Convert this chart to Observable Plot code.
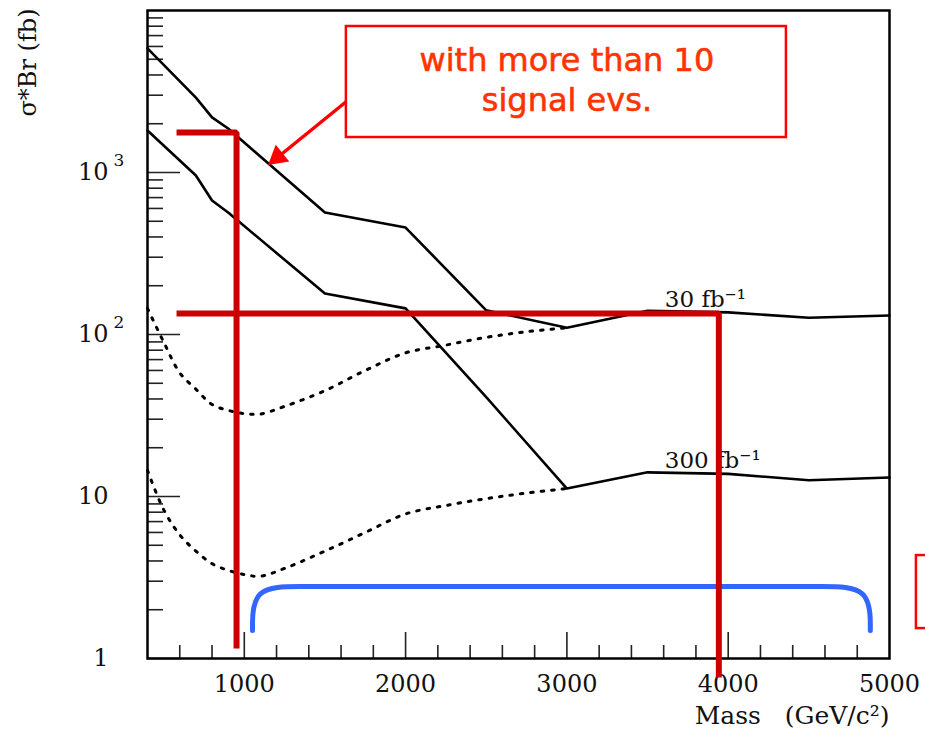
<!DOCTYPE html>
<html>
<head>
<meta charset="utf-8">
<script src="https://cdn.jsdelivr.net/npm/d3@7"></script>
<script src="https://cdn.jsdelivr.net/npm/@observablehq/plot@0.6"></script>
<style>
  html, body { margin: 0; padding: 0; background: #fff; }
  #chart svg { display: block; }
</style>
</head>
<body>
<div id="chart"></div>
<script>
// ---- Data ----
// Solid curves: sigma*Br needed (fb) vs mass (GeV/c^2)
const mass30   = [400, 700, 800, 900, 1500, 2000, 2500, 3000, 3500, 4000, 4500, 5000];
const sigma30  = [5830, 2900, 2190, 1870, 566, 457, 141, 110, 140, 137, 127, 131];
const mass300  = [400, 700, 800, 900, 1500, 2000, 2500, 3000, 3500, 4000, 4500, 5000];
const sigma300 = [1816, 958, 671, 566, 179, 145, 41, 11.2, 14.1, 13.8, 12.6, 13.1];

// Dotted curves
const massDot30   = [400, 500, 600, 700, 800, 900, 1000, 1100, 1250, 1500, 1750, 2000, 2250, 2500, 2750, 3000];
const sigmaDot30  = [145, 90, 58, 46, 37, 34, 32.5, 32.3, 36, 45, 60, 77, 86, 96, 104, 110];
const massDot300  = [400, 500, 600, 700, 800, 900, 1000, 1100, 1250, 1500, 1750, 2000, 2250, 2500, 2750, 3000];
const sigmaDot300 = [14.5, 8.3, 5.8, 4.6, 3.85, 3.5, 3.3, 3.22, 3.6, 4.6, 6.0, 7.8, 8.8, 9.7, 10.5, 11.2];

// Curve labels
const curveLabels = ["30 fb\u207B\u00B9", "300 fb\u207B\u00B9"];
const curveLabelMass = [3607, 3607];
const curveLabelSigma = [164, 16.7];

// Axis ticks
const xMajorTicks = [1000, 2000, 3000, 4000];
const xMinorTicks = [600, 800, 1200, 1400, 1600, 1800, 2200, 2400, 2600, 2800, 3200, 3400, 3600, 3800, 4200, 4400, 4600, 4800];
const xTickLabels = [1000, 2000, 3000, 4000, 5000];
const yMajorTicks = [1, 10, 100, 1000];
const yMinorTicks = [2,3,4,5,6,7,8,9, 20,30,40,50,60,70,80,90, 200,300,400,500,600,700,800,900, 2000,3000,4000,5000,6000,7000,8000,9000];
const yTickBase = ["1", "10", "10", "10"];
const yTickExp  = ["", "", "2", "3"];

// Annotations (in data units)
const redL1Mass  = [580, 952, 952];
const redL1Sigma = [1766, 1766, 1.153];
const redL2Mass  = [580, 3942, 3942];
const redL2Sigma = [134.8, 134.8, 0.763];
const bracketMass  = [1051, 1051, 1348, 1650, 4280, 4584, 4881, 4881];
const bracketSigma = [1.49, 2.78, 2.78, 2.78, 2.78, 2.78, 2.78, 1.49];
const noteLines = ["with more than 10", "signal evs."];
const noteMass = [3000, 3000];
const noteSigma = [4900, 2790];
const noteBox = {x1: 1633, x2: 4361, y1: 1644, y2: 7965};
const noteArrow = {x1: 1633, y1: 2743, x2: 1215, y2: 1260};
const noteArrowHead = {x: 1207, y: 1245};
const sideBox = {x1: 5167, x2: 5600, y1: 1.53, y2: 4.32};

// ---- Build tables ----
const toRows = (xs, ys) => xs.map((x, i) => ({x, y: ys[i]}));
const serif = "DejaVu Serif";

const chart = Plot.plot({
  width: 925,
  height: 734,
  marginLeft: 147,
  marginRight: 36,
  marginTop: 10,
  marginBottom: 76,
  x: {type: "linear", domain: [400, 5000], axis: null},
  y: {type: "log", domain: [1, 10000], axis: null},
  marks: [
    // ticks (inward)
    Plot.ruleY(yMajorTicks, {y: d => d, insetRight: 742 - 33, stroke: "#222", strokeWidth: 1.6}),
    Plot.ruleY(yMinorTicks, {y: d => d, insetRight: 742 - 16, stroke: "#222", strokeWidth: 1.6}),
    Plot.ruleX(xMajorTicks, {x: d => d, insetTop: 648 - 26, stroke: "#222", strokeWidth: 1.6}),
    Plot.ruleX(xMinorTicks, {x: d => d, insetTop: 648 - 13, stroke: "#222", strokeWidth: 1.6}),
    // tick labels
    Plot.axisX(xTickLabels, {tickSize: 0, tickPadding: 16, tickFormat: d => String(d), fontSize: 24, fontFamily: serif, fill: "#111"}),
    Plot.text(yMajorTicks, {y: d => d, frameAnchor: "left", text: (d, i) => yTickBase[i], textAnchor: "end", dx: -39, fontSize: 24, fontFamily: serif, fill: "#111"}),
    Plot.text(yMajorTicks, {y: d => d, frameAnchor: "left", text: (d, i) => yTickExp[i], textAnchor: "start", dx: -34, dy: -12, fontSize: 17, fontFamily: serif, fill: "#111"}),
    // axis titles
    Plot.text(["Mass   (GeV/c\u00B2)"], {x: 5000, y: 0.44, text: d => d, textAnchor: "end", fontSize: 25, fontFamily: serif, fill: "#111"}),
    Plot.text(["\u03C3*Br (fb)"], {x: -339, y: 4775, text: d => d, rotate: -90, fontSize: 24, fontFamily: serif, fill: "#111"}),
    // curves
    Plot.line(toRows(massDot30, sigmaDot30), {x: "x", y: "y", curve: "catmull-rom", stroke: "#000", strokeWidth: 3, strokeDasharray: "2.5 8"}),
    Plot.line(toRows(massDot300, sigmaDot300), {x: "x", y: "y", curve: "catmull-rom", stroke: "#000", strokeWidth: 3, strokeDasharray: "2.5 8"}),
    Plot.line(toRows(mass30, sigma30), {x: "x", y: "y", stroke: "#000", strokeWidth: 2.6}),
    Plot.line(toRows(mass300, sigma300), {x: "x", y: "y", stroke: "#000", strokeWidth: 2.6}),
    Plot.text(curveLabels, {x: (d, i) => curveLabelMass[i], y: (d, i) => curveLabelSigma[i], text: d => d, textAnchor: "start", fontSize: 23, fontFamily: serif, fill: "#111"}),
    // frame
    Plot.frame({stroke: "#000", strokeWidth: 2.5}),
    // annotations
    Plot.line(toRows(bracketMass, bracketSigma), {x: "x", y: "y", curve: "basis", stroke: "#3366ff", strokeWidth: 5}),
    Plot.line(toRows(redL1Mass, redL1Sigma), {x: "x", y: "y", stroke: "#cc0000", strokeWidth: 6, strokeLinejoin: "miter", strokeLinecap: "butt"}),
    Plot.line(toRows(redL2Mass, redL2Sigma), {x: "x", y: "y", stroke: "#cc0000", strokeWidth: 6, strokeLinejoin: "miter", strokeLinecap: "butt"}),
    Plot.rect([noteBox], {x1: "x1", x2: "x2", y1: "y1", y2: "y2", fill: "white", stroke: "#ff0000", strokeWidth: 2.5}),
    Plot.text(noteLines, {x: (d, i) => noteMass[i], y: (d, i) => noteSigma[i], text: d => d, fontSize: 32, fontFamily: "Comic Sans MS, DejaVu Sans", fill: "#ff3300", stroke: "#ff3300", strokeWidth: 0.6}),
    Plot.link([noteArrow], {x1: "x1", y1: "y1", x2: "x2", y2: "y2", stroke: "#ff0000", strokeWidth: 3.5}),
    Plot.dot([noteArrowHead], {x: "x", y: "y", symbol: "triangle", r: 8, rotate: 231, fill: "#ff0000", stroke: "none"}),
    Plot.rect([sideBox], {x1: "x1", x2: "x2", y1: "y1", y2: "y2", fill: "none", stroke: "#ff0000", strokeWidth: 2.5})
  ]
});
document.getElementById("chart").appendChild(chart);
</script>
</body>
</html>
